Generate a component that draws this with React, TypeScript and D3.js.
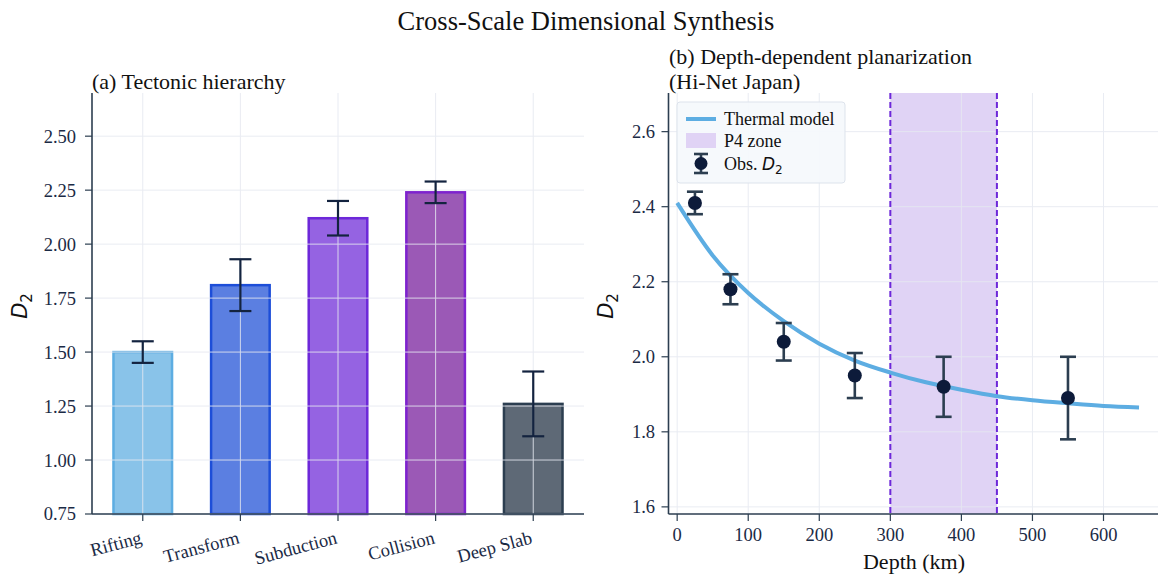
import React from "react";
import * as d3 from "d3";

// ---- Panel (a): tectonic hierarchy ----
const regimes = ["Rifting", "Transform", "Subduction", "Collision", "Deep Slab"];
const regimeD2 = [1.5, 1.81, 2.12, 2.24, 1.26];
const regimeErr = [0.05, 0.12, 0.08, 0.05, 0.15];
const regimeFill = ["#89c3e9", "#5b7fe1", "#9563e2", "#9b59b6", "#5e6976"];
const regimeEdge = ["#5dade2", "#1d4ed8", "#6d28d9", "#7e22ce", "#2c3e50"];
const leftTicks = [0.75, 1.0, 1.25, 1.5, 1.75, 2.0, 2.25, 2.5];

// ---- Panel (b): depth-dependent planarization ----
const obsDepth = [25, 75, 150, 250, 375, 550];
const obsD2 = [2.41, 2.18, 2.04, 1.95, 1.92, 1.89];
const obsErr = [0.03, 0.04, 0.05, 0.06, 0.08, 0.11];
const modelDepth = [0, 50, 100, 150, 200, 250, 300, 350, 400, 450, 500, 550, 600, 650];
const modelD2 = [2.41, 2.27, 2.17, 2.095, 2.035, 1.99, 1.958, 1.932, 1.912, 1.895, 1.884, 1.876, 1.869, 1.865];
const p4Zone = [300, 450];
const rightYTicks = [1.6, 1.8, 2.0, 2.2, 2.4, 2.6];
const rightXTicks = [0, 100, 200, 300, 400, 500, 600];

const SERIF = "'Liberation Serif', 'Times New Roman', serif";
const MATH = "'DejaVu Sans', sans-serif";
const INK = "#1b2a45";
const SPINE = "#2c3e50";
const GRID = "#e6e9f1";

const W = 1158;
const H = 581;
const TOP = 93;
const BOTTOM = 514;
const TICK_FS = 18.5;
const LABEL_FS = 22;

function D2Label({ x, y }: { x: number; y: number }) {
  return (
    <text
      transform={`translate(${x},${y}) rotate(-90)`}
      textAnchor="middle"
      fontFamily={MATH}
      fontSize={21}
      fill="#111"
    >
      <tspan fontStyle="italic">D</tspan>
      <tspan fontSize={15} dy={5}>2</tspan>
    </text>
  );
}

export default function App() {
  // Left axes
  const xa = d3.scaleLinear().domain([-0.52, 4.52]).range([92, 584]);
  const ya = d3.scaleLinear().domain([0.75, 2.7]).range([BOTTOM, TOP]);
  const barW = xa(0.6) - xa(0);

  // Right axes
  const xb = d3.scaleLinear().domain([-12.2, 676.7]).range([668.5, 1158]);
  const yb = d3.scaleLinear().domain([1.581, 2.703]).range([BOTTOM, TOP]);
  const model = d3
    .line<number>()
    .x((_, i) => xb(modelDepth[i]))
    .y((d) => yb(d))
    .curve(d3.curveMonotoneX)(modelD2) as string;

  const cap = 8;

  return (
    <svg width={W} height={H} style={{ display: "block", position: "absolute", left: 0, top: 0 }}>
      <rect width={W} height={H} fill="#fff" />
      <text x={586} y={30} textAnchor="middle" fontFamily={SERIF} fontSize={26.5} fill="#111">
        Cross-Scale Dimensional Synthesis
      </text>

      {/* ---------- (a) ---------- */}
      <text x={92} y={89} fontFamily={SERIF} fontSize={LABEL_FS} fill="#111">
        (a) Tectonic hierarchy
      </text>
      {regimes.map((r, i) => (
        <rect
          key={r}
          x={xa(i) - barW / 2}
          y={ya(regimeD2[i])}
          width={barW}
          height={ya(0.75) - ya(regimeD2[i])}
          fill={regimeFill[i]}
          stroke={regimeEdge[i]}
          strokeWidth={2.5}
        />
      ))}
      {/* grid over bars */}
      <g stroke={GRID} strokeWidth={1} opacity={0.85}>
        {leftTicks.map((t) => (
          <line key={t} x1={92} x2={584} y1={ya(t)} y2={ya(t)} />
        ))}
        {regimes.map((r, i) => (
          <line key={r} x1={xa(i)} x2={xa(i)} y1={TOP} y2={BOTTOM} />
        ))}
      </g>
      {regimes.map((r, i) => {
        const cx = xa(i);
        const y1 = ya(regimeD2[i] + regimeErr[i]);
        const y0 = ya(regimeD2[i] - regimeErr[i]);
        return (
          <g key={r} stroke="#13233f" strokeWidth={2.2}>
            <line x1={cx} x2={cx} y1={y1} y2={y0} />
            <line x1={cx - 11} x2={cx + 11} y1={y1} y2={y1} />
            <line x1={cx - 11} x2={cx + 11} y1={y0} y2={y0} />
          </g>
        );
      })}
      {/* axes (a) */}
      <line x1={92} x2={92} y1={TOP} y2={BOTTOM} stroke={SPINE} strokeWidth={1.6} />
      <line x1={92} x2={584} y1={BOTTOM} y2={BOTTOM} stroke={SPINE} strokeWidth={1.6} />
      {leftTicks.map((t) => (
        <g key={t}>
          <line x1={85} x2={92} y1={ya(t)} y2={ya(t)} stroke={SPINE} strokeWidth={1.2} />
          <text
            x={76}
            y={ya(t)}
            dy="0.35em"
            textAnchor="end"
            fontFamily={SERIF}
            fontSize={TICK_FS}
            fill={INK}
          >
            {t.toFixed(2)}
          </text>
        </g>
      ))}
      {regimes.map((r, i) => (
        <g key={r}>
          <line x1={xa(i)} x2={xa(i)} y1={BOTTOM} y2={BOTTOM + 7} stroke={SPINE} strokeWidth={1.2} />
          <text
            transform={`translate(${xa(i)},${BOTTOM + 29}) rotate(-15)`}
            textAnchor="end"
            fontFamily={SERIF}
            fontSize={TICK_FS}
            fill={INK}
          >
            {r}
          </text>
        </g>
      ))}
      <D2Label x={27} y={306} />

      {/* ---------- (b) ---------- */}
      <text x={669} y={64} fontFamily={SERIF} fontSize={LABEL_FS} fill="#111">
        (b) Depth-dependent planarization
      </text>
      <text x={669} y={89} fontFamily={SERIF} fontSize={LABEL_FS} fill="#111">
        (Hi-Net Japan)
      </text>
      <rect
        x={xb(p4Zone[0])}
        y={TOP}
        width={xb(p4Zone[1]) - xb(p4Zone[0])}
        height={BOTTOM - TOP}
        fill="#e0d3f5"
      />
      <g stroke={GRID} strokeWidth={1} opacity={0.85}>
        {rightYTicks.map((t) => (
          <line key={t} x1={668.5} x2={1158} y1={yb(t)} y2={yb(t)} />
        ))}
        {rightXTicks.map((t) => (
          <line key={t} x1={xb(t)} x2={xb(t)} y1={TOP} y2={BOTTOM} />
        ))}
      </g>
      {p4Zone.map((z) => (
        <line
          key={z}
          x1={xb(z)}
          x2={xb(z)}
          y1={TOP}
          y2={BOTTOM}
          stroke="#6d28d9"
          strokeWidth={2}
          strokeDasharray="6 3"
        />
      ))}
      <path d={model} fill="none" stroke="#5dade2" strokeWidth={4} />
      {obsDepth.map((d, i) => {
        const cx = xb(d);
        const y1 = yb(obsD2[i] + obsErr[i]);
        const y0 = yb(obsD2[i] - obsErr[i]);
        return (
          <g key={d}>
            <g stroke="#2c3e50" strokeWidth={2.6}>
              <line x1={cx} x2={cx} y1={y1} y2={y0} />
              <line x1={cx - cap} x2={cx + cap} y1={y1} y2={y1} />
              <line x1={cx - cap} x2={cx + cap} y1={y0} y2={y0} />
            </g>
            <circle cx={cx} cy={yb(obsD2[i])} r={7} fill="#0d1b3a" />
          </g>
        );
      })}
      {/* axes (b) */}
      <line x1={668.5} x2={668.5} y1={TOP} y2={BOTTOM} stroke={SPINE} strokeWidth={1.6} />
      <line x1={668.5} x2={1158} y1={BOTTOM} y2={BOTTOM} stroke={SPINE} strokeWidth={1.6} />
      {rightYTicks.map((t) => (
        <g key={t}>
          <line x1={661.5} x2={668.5} y1={yb(t)} y2={yb(t)} stroke={SPINE} strokeWidth={1.2} />
          <text
            x={655}
            y={yb(t)}
            dy="0.35em"
            textAnchor="end"
            fontFamily={SERIF}
            fontSize={TICK_FS}
            fill={INK}
          >
            {t.toFixed(1)}
          </text>
        </g>
      ))}
      {rightXTicks.map((t) => (
        <g key={t}>
          <line x1={xb(t)} x2={xb(t)} y1={BOTTOM} y2={BOTTOM + 7} stroke={SPINE} strokeWidth={1.2} />
          <text
            x={xb(t)}
            y={BOTTOM + 27}
            textAnchor="middle"
            fontFamily={SERIF}
            fontSize={TICK_FS}
            fill={INK}
          >
            {t}
          </text>
        </g>
      ))}
      <text x={914} y={569} textAnchor="middle" fontFamily={SERIF} fontSize={LABEL_FS} fill="#111">
        Depth (km)
      </text>
      <D2Label x={613} y={306} />

      {/* legend */}
      <g>
        <rect x={677} y={102} width={168} height={81} rx={3} fill="#f5f8fc" fillOpacity={0.92} stroke="#dde3ec" strokeWidth={1} />
        <line x1={686} x2={716} y1={119} y2={119} stroke="#5dade2" strokeWidth={4} />
        <text x={724} y={119} dy="0.35em" fontFamily={SERIF} fontSize={18} fill="#111">
          Thermal model
        </text>
        <rect x={686} y={133} width={30} height={15} fill="#e0d3f5" />
        <text x={724} y={141} dy="0.35em" fontFamily={SERIF} fontSize={18} fill="#111">
          P4 zone
        </text>
        <g stroke="#2c3e50" strokeWidth={2.6}>
          <line x1={701} x2={701} y1={154} y2={173} />
          <line x1={694} x2={708} y1={154} y2={154} />
          <line x1={694} x2={708} y1={173} y2={173} />
        </g>
        <circle cx={701} cy={163.5} r={6.5} fill="#0d1b3a" />
        <text x={724} y={164} dy="0.35em" fontFamily={SERIF} fontSize={18} fill="#111">
          Obs. <tspan fontFamily={MATH} fontStyle="italic" fontSize={17}>D</tspan>
          <tspan fontFamily={MATH} fontSize={12} dy={4}>2</tspan>
        </text>
      </g>
    </svg>
  );
}
